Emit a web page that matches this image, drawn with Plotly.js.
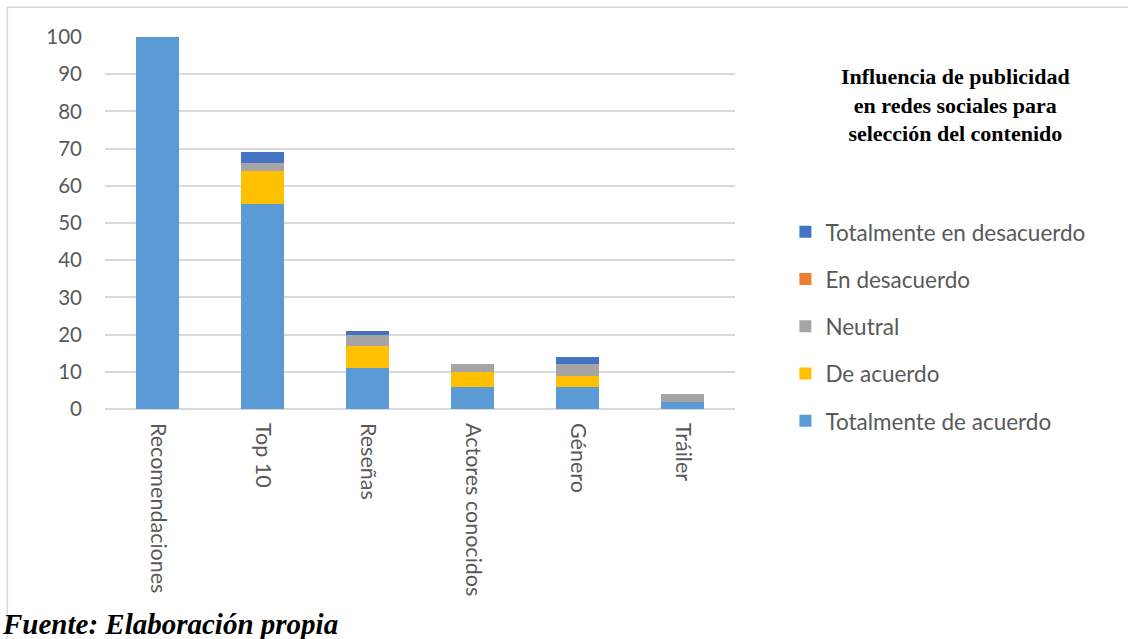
<!DOCTYPE html>
<html>
<head>
<meta charset="utf-8">
<script src="https://cdn.plot.ly/plotly-3.0.1.min.js"></script>
<style>
  html, body { margin: 0; padding: 0; background: #ffffff; }
  #chart { width: 1128px; height: 639px; }
</style>
</head>
<body>
<div id="chart"></div>
<script>
// Categories (canales de publicidad) and answer counts per level of agreement
const categorias = ["Recomendaciones", "Top 10", "Reseñas", "Actores conocidos", "Género", "Tráiler"];
const totalmenteDeAcuerdo    = [100, 55, 11, 6, 6, 2];
const deAcuerdo              = [0, 9, 6, 4, 3, 0];
const neutral                = [0, 2, 3, 2, 3, 2];
const enDesacuerdo           = [0, 0, 0, 0, 0, 0];
const totalmenteEnDesacuerdo = [0, 3, 1, 0, 2, 0];
const yTicks = [0, 10, 20, 30, 40, 50, 60, 70, 80, 90, 100];

const series = [
  { name: "Totalmente de acuerdo",    y: totalmenteDeAcuerdo,    color: "#5B9BD5" },
  { name: "De acuerdo",               y: deAcuerdo,              color: "#FFC000" },
  { name: "Neutral",                  y: neutral,                color: "#A5A5A5" },
  { name: "En desacuerdo",            y: enDesacuerdo,           color: "#ED7D31" },
  { name: "Totalmente en desacuerdo", y: totalmenteEnDesacuerdo, color: "#4472C4" }
];

const sansFont = "Lato, 'Open Sans', sans-serif";
const serifFont = "'Liberation Serif', 'DejaVu Serif', serif";

// Stacked from bottom (de acuerdo) to top (en desacuerdo); legend lists the top segment first
const traces = series.map((s, i) => ({
  type: "bar",
  name: s.name,
  x: categorias,
  y: s.y,
  legendgroup: "g" + i,
  legendrank: series.length - i,
  marker: { color: s.color, line: { width: 0 } },
  hoverinfo: "x+y+name"
}));

const layout = {
  width: 1128,
  height: 639,
  barmode: "stack",
  bargap: 0.59,
  paper_bgcolor: "#ffffff",
  plot_bgcolor: "#ffffff",
  margin: { l: 105, r: 393, t: 37, b: 230 },
  font: { family: sansFont, color: "#595959" },
  xaxis: {
    type: "category",
    tickangle: 90,
    tickfont: { family: sansFont, size: 21.5, color: "#595959" },
    showgrid: false,
    showline: false,
    ticks: "",
    ticklabelstandoff: 13
  },
  yaxis: {
    range: [0, 100],
    tickvals: yTicks,
    tickfont: { family: sansFont, size: 20.5, color: "#595959" },
    showgrid: true,
    gridcolor: "#D9D9D9",
    gridwidth: 1.5,
    zeroline: true,
    zerolinecolor: "#D9D9D9",
    zerolinewidth: 1.5,
    showline: false,
    ticks: "",
    ticklabelstandoff: 22
  },
  showlegend: true,
  legend: {
    orientation: "v",
    traceorder: "grouped",
    tracegroupgap: 15,
    x: 1.08,
    xanchor: "left",
    y: 0.533,
    yanchor: "top",
    itemwidth: 30,
    font: { family: sansFont, size: 22.5, color: "#595959" },
    bgcolor: "rgba(0,0,0,0)"
  },
  annotations: [
    {
      text: "<b>Influencia de publicidad<br>en redes sociales para<br>selección del contenido</b>",
      xref: "paper", yref: "paper",
      x: 1.35, y: 0.933,
      xanchor: "center", yanchor: "top",
      showarrow: false,
      align: "center",
      font: { family: serifFont, size: 22, color: "#000000" }
    },
    {
      text: "<b><i>Fuente: Elaboración propia</i></b>",
      xref: "paper", yref: "paper",
      x: -0.167, y: -0.578,
      xanchor: "left", yanchor: "middle",
      showarrow: false,
      font: { family: serifFont, size: 29, color: "#000000" }
    }
  ],
  shapes: [
    {
      type: "rect",
      xref: "paper", yref: "paper",
      x0: -0.155, x1: 1.63,
      y0: -0.62, y1: 1.08,
      line: { color: "#D9D9D9", width: 1.5 },
      fillcolor: "rgba(0,0,0,0)",
      layer: "below"
    }
  ]
};

Plotly.newPlot("chart", traces, layout, { displayModeBar: false });
</script>
</body>
</html>
